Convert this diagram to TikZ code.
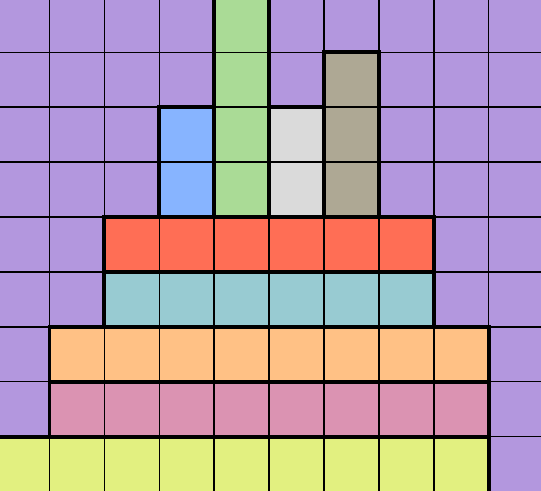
\documentclass[tikz,border=0pt]{standalone}
\usepackage{xcolor}
\usepackage{tikz}
\definecolor{bgpurple}{RGB}{179,151,222}
\definecolor{pgreen}{RGB}{170,219,150}
\definecolor{pblue}{RGB}{135,180,255}
\definecolor{pgray}{RGB}{218,218,218}
\definecolor{ptaupe}{RGB}{174,168,148}
\definecolor{pred}{RGB}{255,110,85}
\definecolor{pteal}{RGB}{152,203,210}
\definecolor{porange}{RGB}{255,193,133}
\definecolor{ppink}{RGB}{219,147,178}
\definecolor{pyellow}{RGB}{226,240,128}

\begin{document}
\begin{tikzpicture}[
  cell/.style={draw=black,line width=0.75pt},
  blk/.style={draw=black,line width=2pt,line join=miter}]
\useasboundingbox (0.098,0.027) rectangle (9.953,8.953);
\clip (0.098,0.027) rectangle (9.953,8.953);
\fill[bgpurple] (-1,-1) rectangle (11,10);
% stacked blocks
\fill[pgreen]  (4,5) rectangle (5,9.6);
\fill[pblue]   (3,5) rectangle (4,7);
\fill[pgray]   (5,5) rectangle (6,7);
\fill[ptaupe]  (6,5) rectangle (7,8);
\fill[pred]    (2,4) rectangle (8,5);
\fill[pteal]   (2,3) rectangle (8,4);
\fill[porange] (1,2) rectangle (9,3);
\fill[ppink]   (1,1) rectangle (9,2);
\fill[pyellow] (-1,-1) rectangle (9,1);
\draw[cell] (-1,-1) grid (11,10);
% outlines
\draw[blk] (4,5) rectangle (5,9.6);
\draw[blk] (3,5) rectangle (4,7);
\draw[blk] (5,5) rectangle (6,7);
\draw[blk] (6,5) rectangle (7,8);
\draw[blk] (2,4) rectangle (8,5);
\draw[blk] (2,3) rectangle (8,4);
\draw[blk] (1,2) rectangle (9,3);
\draw[blk] (1,1) rectangle (9,2);
\draw[blk] (-1,-1) rectangle (9,1);
\end{tikzpicture}
\end{document}
